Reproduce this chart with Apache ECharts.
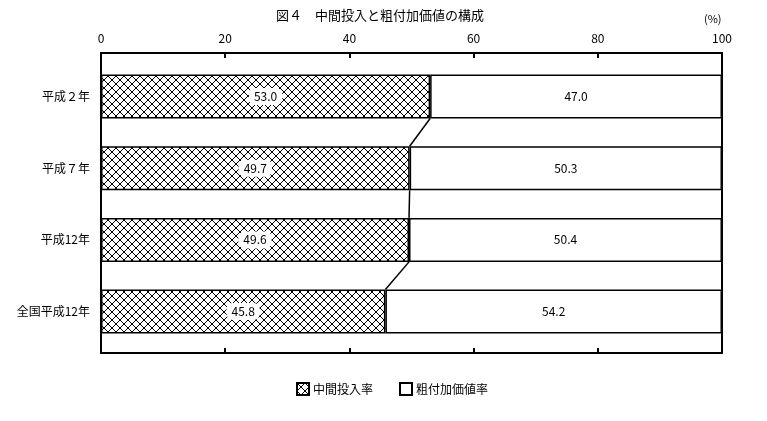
<!DOCTYPE html>
<html><head><meta charset="utf-8">
<script src="https://cdn.jsdelivr.net/npm/echarts@6/dist/echarts.min.js"></script>
<style>html,body{margin:0;padding:0;background:#fff}#c{width:767px;height:421px}</style>
</head><body><div id="c"></div>
<script>
const categories = ['平成２年', '平成７年', '平成12年', '全国平成12年'];
const intermediate = [53.0, 49.7, 49.6, 45.8];
const valueAdded = [47.0, 50.3, 50.4, 54.2];
const seriesNames = ['中間投入率', '粗付加価値率'];
const xTicks = [0, 20, 40, 60, 80, 100];

const FONT = '"Noto Sans CJK JP", sans-serif';
const BAR_W = 44;

// crosshatch pattern
const pc = document.createElement('canvas');
pc.width = 8; pc.height = 8;
const px = pc.getContext('2d');
px.fillStyle = '#fff'; px.fillRect(0, 0, 8, 8);
px.fillStyle = '#000';
for (let i = 0; i < 8; i++) { px.fillRect(i, i, 1, 1); px.fillRect(7 - i, i, 1, 1); }
px.fillRect(3, 3, 2, 2); px.fillRect(0, 0, 1, 1); px.fillRect(7, 7, 1, 1);
const hatch = { image: pc, repeat: 'repeat' };

const linkData = [];
for (let i = 0; i < intermediate.length - 1; i++) {
  linkData.push([intermediate[i], i, intermediate[i + 1], i + 1]);
}

const chart = echarts.init(document.getElementById('c'), null, { renderer: 'canvas' });
chart.setOption({
  animation: false,
  title: {
    text: '図４　中間投入と粗付加価値の構成',
    left: 375, top: 4, textAlign: 'center',
    textStyle: { fontFamily: FONT, fontSize: 13, fontWeight: 'normal', color: '#000' }
  },
  graphic: [{
    type: 'text', left: 704, top: 13,
    style: { text: '(%)', font: '11px ' + FONT, fill: '#000' }
  }],
  legend: {
    left: 291, top: 377, itemWidth: 12, itemHeight: 12, itemGap: 26,
    icon: 'rect',
    textStyle: { fontFamily: FONT, fontSize: 12, color: '#000', padding: [0, 0, 0, -1] },
    data: seriesNames
  },
  grid: [
    { left: 101, right: 45, top: 60.7, height: 286.7 },
    { left: 101, right: 45, top: 53, height: 300, show: true, borderColor: '#000', borderWidth: 2, backgroundColor: 'transparent' }
  ],
  xAxis: [
    { gridIndex: 0, type: 'value', min: 0, max: 100, show: false },
    { gridIndex: 1, type: 'value', position: 'top', min: 0, max: 100, interval: 20,
      axisLine: { show: true, onZero: false, lineStyle: { color: '#000', width: 2 } },
      axisTick: { show: true, inside: true, length: 5, lineStyle: { color: '#000', width: 2 } },
      splitLine: { show: false },
      axisLabel: { margin: 9, fontFamily: FONT, fontSize: 12, color: '#000',
        formatter: v => xTicks.includes(v) ? String(v) : '' } },
    { gridIndex: 1, type: 'value', position: 'bottom', min: 0, max: 100, interval: 20,
      axisLine: { show: true, onZero: false, lineStyle: { color: '#000', width: 2 } },
      axisTick: { show: true, inside: true, length: 5, lineStyle: { color: '#000', width: 2 } },
      splitLine: { show: false }, axisLabel: { show: false } }
  ],
  yAxis: [
    { gridIndex: 0, type: 'category', inverse: true, data: categories,
      axisLine: { show: false }, axisTick: { show: false },
      axisLabel: { margin: 11, fontFamily: FONT, fontSize: 12, color: '#000' } },
    { gridIndex: 1, type: 'value', show: false, min: 0, max: 1 }
  ],
  series: [
    { name: seriesNames[0], type: 'bar', stack: 'a', xAxisIndex: 0, yAxisIndex: 0,
      barWidth: BAR_W, data: intermediate,
      itemStyle: { color: hatch, borderColor: '#000', borderWidth: 1.5 },
      label: { show: true, position: 'inside', formatter: p => p.value.toFixed(1),
        fontFamily: FONT, fontSize: 12, color: '#000', backgroundColor: '#fff',
        padding: [3, 5, 2, 5], borderRadius: 6 } },
    { name: seriesNames[1], type: 'bar', stack: 'a', xAxisIndex: 0, yAxisIndex: 0,
      barWidth: BAR_W, data: valueAdded,
      itemStyle: { color: '#fff', borderColor: '#000', borderWidth: 1.5 },
      label: { show: true, position: 'inside', formatter: p => p.value.toFixed(1),
        fontFamily: FONT, fontSize: 12, color: '#000' } },
    { type: 'custom', xAxisIndex: 0, yAxisIndex: 0, data: linkData, z: 5, silent: true,
      encode: { x: [0, 2], y: [1, 3] },
      renderItem: (params, api) => {
        const a = api.coord([api.value(0), api.value(1)]);
        const b = api.coord([api.value(2), api.value(3)]);
        return { type: 'line',
          shape: { x1: a[0], y1: a[1] + BAR_W / 2, x2: b[0], y2: b[1] - BAR_W / 2 },
          style: { stroke: '#000', lineWidth: 1.5 } };
      } }
  ]
});
</script></body></html>
